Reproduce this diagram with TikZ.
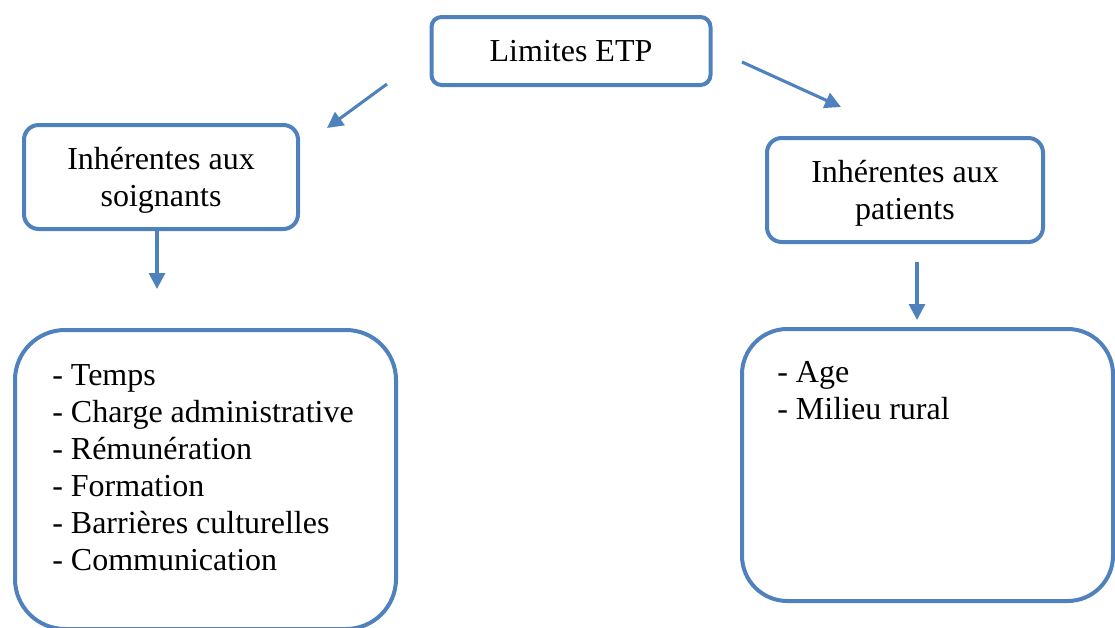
\documentclass[tikz,border=0pt]{standalone}
\usepackage{fontspec}
\setmainfont{Liberation Serif}
\usepackage{tikz}
\usetikzlibrary{arrows.meta}
\definecolor{etpblue}{RGB}{79,129,189}

\begin{document}
\begin{tikzpicture}[x=0.75pt,y=-0.75pt,font=\fontsize{24}{27.75}\selectfont]
\tikzstyle{box} = [draw=etpblue, line width=3pt, inner sep=0pt, align=center]
\tikzstyle{arrow} = [etpblue, line width=2.3pt, -{Triangle[length=12pt,width=12pt]}]
\tikzstyle{liste} = [inner sep=0pt, anchor=north west, align=left]

\useasboundingbox (0,0) rectangle (1115,628);

\node (etp) at (571,51) [box, rounded corners=7.5pt, minimum width=209.25pt, minimum height=51pt] {Limites ETP};
\node (soi) at (161,177) [box, rounded corners=11pt, minimum width=205.5pt, minimum height=78pt, text depth=0pt] {Inhérentes aux\\soignants};
\node (pat) at (905,190) [box, rounded corners=11pt, minimum width=207pt, minimum height=78pt, text depth=0pt] {Inhérentes aux\\patients};
\node (soibox) at (205.5,479.5) [box, rounded corners=37.5pt, minimum width=285.75pt, minimum height=224.25pt] {};
\node (patbox) at (927.5,465) [box, rounded corners=34pt, minimum width=278.25pt, minimum height=204pt] {};

\node (soilist) at (52,364) [liste] {- Temps\\- Charge administrative\\- Rémunération\\- Formation\\- Barrières culturelles\\- Communication};
\node (patlist) at (777,361) [liste] {- Age\\- Milieu rural};

\coordinate (g1) at (387,84);
\coordinate (g2) at (327,128);
\coordinate (d1) at (742,62);
\coordinate (d2) at (841,107);
\coordinate (s1) at (157,231);
\coordinate (s2) at (157,289);
\coordinate (p1) at (917,262);
\coordinate (p2) at (917,320);

\draw [arrow] (g1) -- (g2);
\draw [arrow] (d1) -- (d2);
\draw [arrow] (s1) -- (s2);
\draw [arrow] (p1) -- (p2);

\end{tikzpicture}
\end{document}
